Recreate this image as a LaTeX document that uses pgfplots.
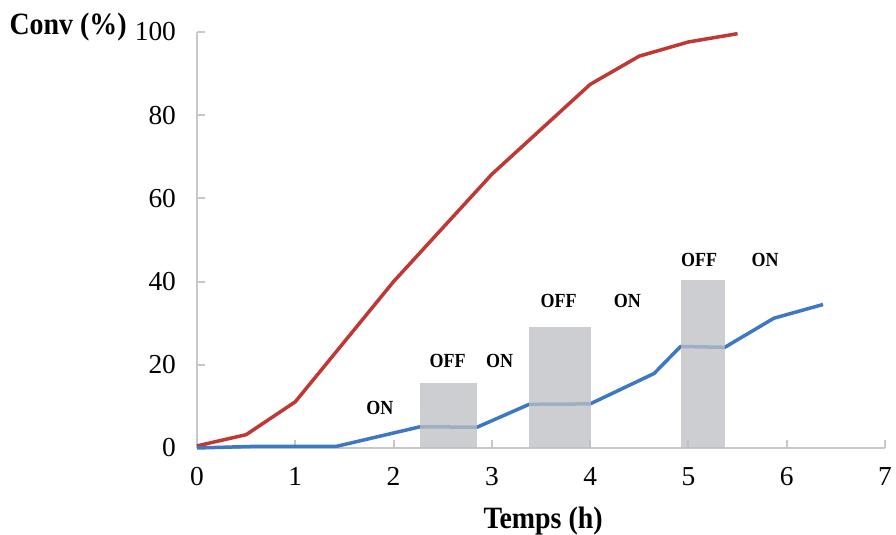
\documentclass[border=0pt]{standalone}
\usepackage{pgfplots}
\pgfplotsset{compat=1.18}
\usepackage{fontspec}
\setmainfont{Liberation Serif}
\newfontfamily\labelfont{Liberation Serif}[FakeStretch=0.9]
\definecolor{redl}{RGB}{192,56,52}
\definecolor{bluel}{RGB}{61,120,196}
\definecolor{barg}{RGB}{190,191,195}
\definecolor{axg}{RGB}{200,200,200}
\begin{document}
\begin{tikzpicture}
\begin{axis}[
  scale only axis, width=344pt, height=208pt,
  at={(0,0)}, anchor=south west,
  xmin=0, xmax=7, ymin=0, ymax=100,
  xtick={0,1,...,7}, ytick={0,20,...,100},
  axis lines=left,
  axis line style={axg, line width=1pt, -},
  tick style={axg, line width=1pt},
  tick align=inside, major tick length=4pt,
  /pgf/number format/assume math mode=true,
  tick label style={font=\fontsize{13.7}{15}\selectfont, black},
  yticklabel style={xshift=-7pt},
  xticklabel style={yshift=-6pt},
  every axis y label/.style={at={(rel axis cs:0,1)}, anchor=east, inner sep=0pt, xshift=-35pt, yshift=2.5pt},
  every axis x label/.style={at={(rel axis cs:0.503,0)}, anchor=center, inner sep=0pt, yshift=-36.5pt},
  label style={font=\labelfont\fontsize{15.5}{17}\selectfont\bfseries},
  xlabel={Temps (h)}, ylabel={Conv (\%)},
  clip=false,
]
\addplot[redl, line width=1.75pt, line join=round] coordinates {
(0,0.5)(0.5,3.2)(1,11.1)(2,40)(3,65.8)(4,87.4)(4.5,94.2)(5,97.6)(5.5,99.6)};
\addplot[bluel, line width=1.75pt, line join=round] coordinates {
(0,0)(0.6,0.4)(1,0.4)(1.42,0.4)(2.27,5.1)(2.85,5.0)(3.38,10.5)(4.0,10.6)(4.65,17.9)(4.92,24.4)(5.37,24.2)(5.87,31.2)(6.37,34.5)};
\addplot[draw=none, fill=barg, fill opacity=0.77] coordinates {(2.27,0)(2.27,15.7)(2.85,15.7)(2.85,0)} -- cycle;
\addplot[draw=none, fill=barg, fill opacity=0.77] coordinates {(3.38,0)(3.38,29.0)(4.01,29.0)(4.01,0)} -- cycle;
\addplot[draw=none, fill=barg, fill opacity=0.77] coordinates {(4.92,0)(4.92,40.4)(5.37,40.4)(5.37,0)} -- cycle;
\begin{scope}[every node/.style={font=\labelfont\fontsize{10}{11}\selectfont\bfseries}]
\node at (axis cs:1.86,9.6) {ON};
\node at (axis cs:2.55,20.9) {OFF};
\node at (axis cs:3.08,20.9) {ON};
\node at (axis cs:3.68,35.3) {OFF};
\node at (axis cs:4.38,35.3) {ON};
\node at (axis cs:5.11,45.2) {OFF};
\node at (axis cs:5.78,45.2) {ON};
\end{scope}
\end{axis}
\pgfresetboundingbox
\path (-98.5pt,-43.5pt) rectangle (349.5pt,224pt);
\end{tikzpicture}
\end{document}
